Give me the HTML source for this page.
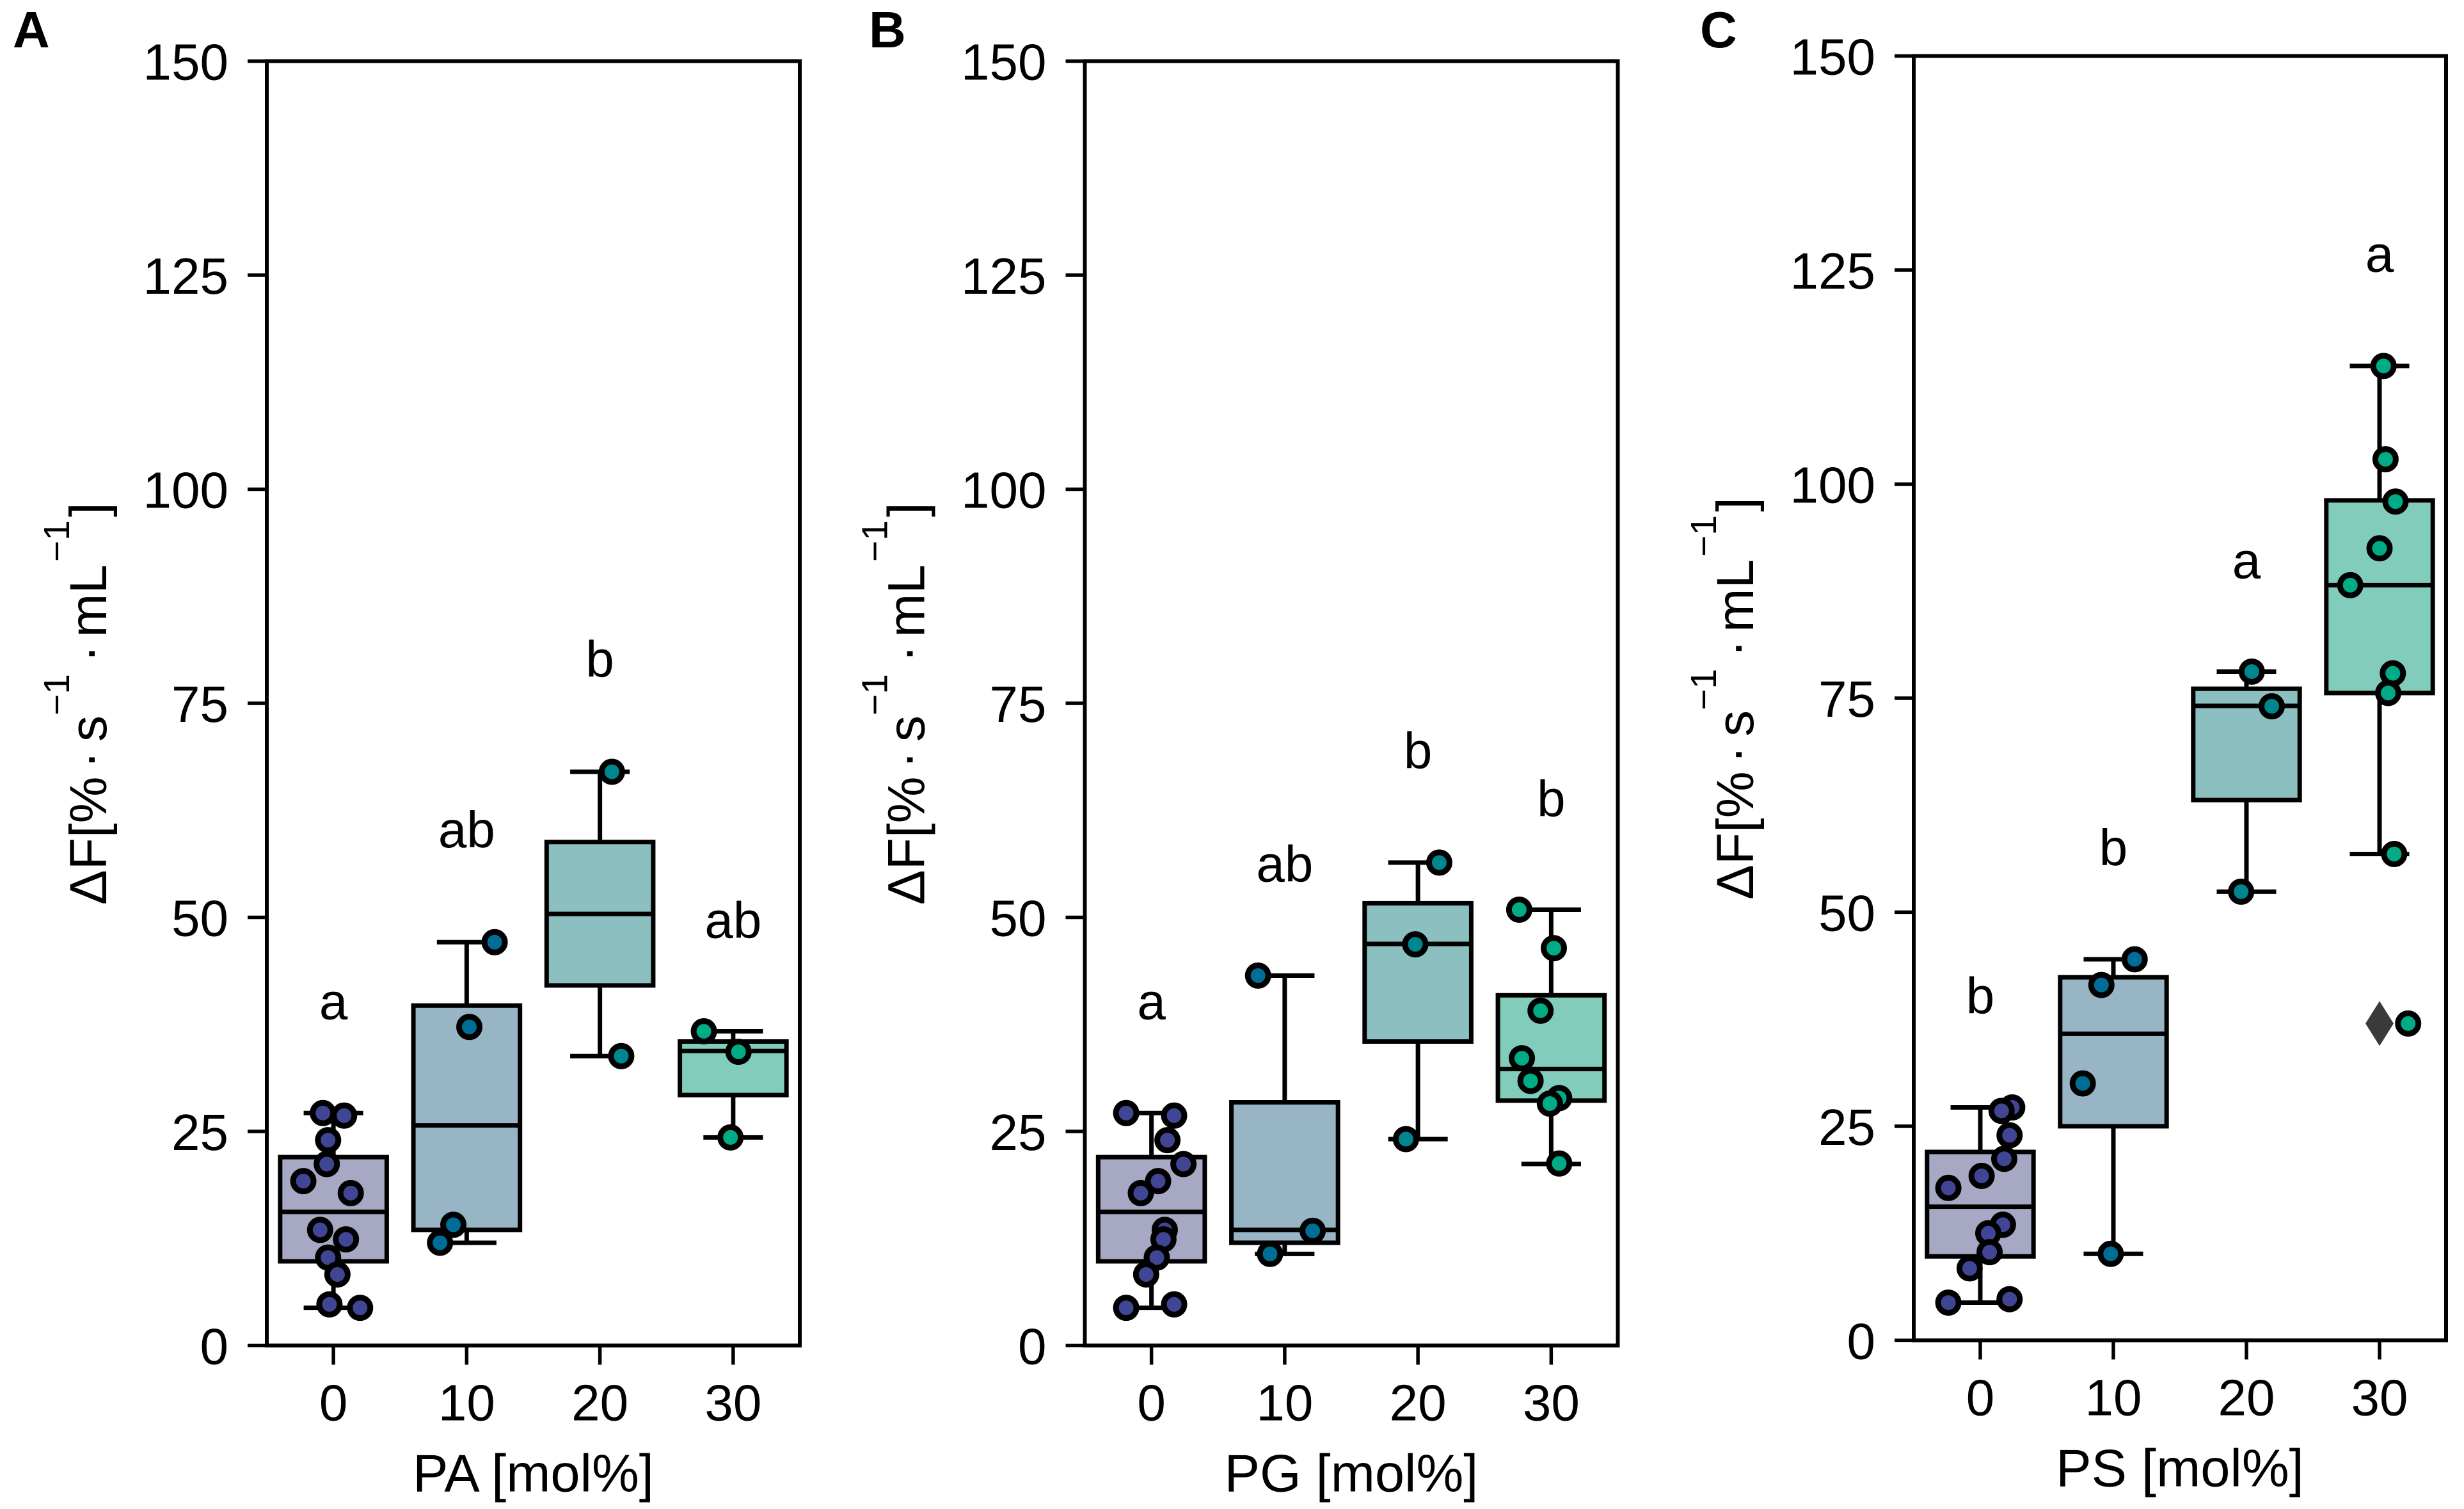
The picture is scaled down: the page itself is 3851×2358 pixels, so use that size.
<!DOCTYPE html>
<html lang="en">
<head>
<meta charset="utf-8">
<title>Box plots of fluorescence change versus PA, PG and PS content</title>
<style>
html,body{margin:0;padding:0;background:#fff;}
svg{display:block;}
text{font-family:"Liberation Sans",Arial,sans-serif;fill:#000;}
</style>
</head>
<body>
<svg id="figure" xmlns="http://www.w3.org/2000/svg" width="3851" height="2358" viewBox="0 0 3851 2358"></svg>
<script>
// ---- shared axis data ----
const categories = [0, 10, 20, 30];
const yTicks = [0, 25, 50, 75, 100, 125, 150];
const yMax = 150;

// ---- panel A: PA ----
const paQ1 = [9.83, 13.5, 42.05, 29.25];
const paMedian = [15.6, 25.7, 50.4, 34.4];
const paQ3 = [22.0, 39.7, 58.8, 35.5];
const paWhiskerLow = [4.4, 12.0, 33.8, 24.3];
const paWhiskerHigh = [27.15, 47.1, 67.0, 36.7];
const paPointValues = [
  [27.15, 26.85, 23.98, 21.19, 19.2, 17.8, 13.5, 12.4, 10.27, 8.3, 4.8, 4.4],
  [47.1, 37.2, 14.1, 12.0],
  [67.0, 33.8],
  [36.7, 34.3, 24.3]
];
const paPointJitter = [
  [-0.079, 0.08, -0.04, -0.05, -0.226, 0.13, -0.1, 0.094, -0.04, 0.03, -0.03, 0.2],
  [0.21, 0.02, -0.1, -0.2],
  [0.09, 0.16],
  [-0.22, 0.04, -0.02]
];
const paLetters = ['a', 'ab', 'b', 'ab'];
const paLetterHeights = [38.1, 58.2, 78.1, 47.6];
const paOutliers = [null, null, null, null];

// ---- panel B: PG ----
const pgQ1 = [9.83, 12.0, 35.5, 28.6];
const pgMedian = [15.6, 13.5, 46.9, 32.3];
const pgQ3 = [22.0, 28.4, 51.65, 40.9];
const pgWhiskerLow = [4.4, 10.7, 24.1, 21.2];
const pgWhiskerHigh = [27.15, 43.2, 56.4, 50.9];
const pgPointValues = [
  [27.15, 26.85, 23.98, 21.19, 19.2, 17.8, 13.5, 12.4, 10.27, 8.3, 4.8, 4.4],
  [43.2, 13.4, 10.7],
  [56.4, 46.85, 24.1],
  [50.9, 46.4, 39.1, 33.55, 30.9, 28.9, 28.25, 21.25]
];
const pgPointJitter = [
  [-0.19, 0.17, 0.12, 0.24, 0.05, -0.08, 0.1, 0.09, 0.04, -0.04, 0.17, -0.19],
  [-0.2, 0.21, -0.11],
  [0.16, -0.02, -0.09],
  [-0.24, 0.02, -0.08, -0.22, -0.155, 0.06, -0.01, 0.06]
];
const pgLetters = ['a', 'ab', 'b', 'b'];
const pgLetterHeights = [38.1, 54.2, 67.4, 61.8];
const pgOutliers = [null, null, null, null];

// ---- panel C: PS ----
const psQ1 = [9.8, 25.0, 63.1, 75.6];
const psMedian = [15.6, 35.8, 74.1, 88.2];
const psQ3 = [22.0, 42.4, 76.1, 98.1];
const psWhiskerLow = [4.4, 10.1, 52.4, 56.8];
const psWhiskerHigh = [27.2, 44.5, 78.1, 113.8];
const psPointValues = [
  [27.2, 26.8, 23.95, 21.2, 19.2, 17.8, 13.5, 12.5, 10.3, 8.4, 4.8, 4.4],
  [44.5, 41.5, 30.0, 10.1],
  [78.1, 74.05, 52.4],
  [113.8, 102.9, 97.96, 92.5, 88.2, 77.9, 75.6, 56.8, 37.0]
];
const psPointJitter = [
  [0.24, 0.16, 0.22, 0.18, 0.01, -0.24, 0.17, 0.06, 0.07, -0.08, 0.22, -0.24],
  [0.16, -0.09, -0.23, -0.02],
  [0.04, 0.19, -0.04],
  [0.03, 0.045, 0.12, 0, -0.22, 0.1, 0.065, 0.11, 0.215]
];
const psLetters = ['b', 'b', 'a', 'a'];
const psLetterHeights = [38.2, 55.5, 89.0, 124.8];
const psOutliers = [null, null, null, 37.0];

// ---- styling and layout ----
const boxFills = ['#a6a8c4', '#97b5c4', '#8bbfc0', '#82ccbb'];
const dotFills = ['#404694', '#006d97', '#00868f', '#00ab85'];

const panels = [
  {id: 'pa', letter: 'A', letterX: 20, label: 'PA [mol%]', left: 417, right: 1250, top: 95.5, bottom: 2102.5,
   q1: paQ1, med: paMedian, q3: paQ3, lo: paWhiskerLow, hi: paWhiskerHigh, vals: paPointValues, jit: paPointJitter, letters: paLetters, lh: paLetterHeights, out: paOutliers},
  {id: 'pg', letter: 'B', letterX: 1358, label: 'PG [mol%]', left: 1695.5, right: 2528.5, top: 95.5, bottom: 2102.5,
   q1: pgQ1, med: pgMedian, q3: pgQ3, lo: pgWhiskerLow, hi: pgWhiskerHigh, vals: pgPointValues, jit: pgPointJitter, letters: pgLetters, lh: pgLetterHeights, out: pgOutliers},
  {id: 'ps', letter: 'C', letterX: 2657, label: 'PS [mol%]', left: 2991, right: 3823, top: 87.5, bottom: 2094.4,
   q1: psQ1, med: psMedian, q3: psQ3, lo: psWhiskerLow, hi: psWhiskerHigh, vals: psPointValues, jit: psPointJitter, letters: psLetters, lh: psLetterHeights, out: psOutliers}
];

const NS = 'http://www.w3.org/2000/svg';
const svg = document.getElementById('figure');

function make(tag, parent, props) {
  const el = document.createElementNS(NS, tag);
  for (const k in props) el.setAttribute(k, props[k]);
  parent.appendChild(el);
  return el;
}
function line(parent, x1, y1, x2, y2, w, name) {
  const el = make('line', parent, {x1: x1, y1: y1, x2: x2, y2: y2, stroke: '#000', 'stroke-width': w});
  
  
  return el;
}
function label(parent, str, x, y, size, anchor, name, weight) {
  const el = make('text', parent, {x: x, y: y, 'font-size': size, 'text-anchor': anchor || 'start'});
  if (weight) el.setAttribute('font-weight', weight);
  el.textContent = str;
  
  
  return el;
}

panels.forEach(function (p) {
  const xAt = function (pos) { return p.left + (pos + 0.5) / categories.length * (p.right - p.left); };
  const yAt = function (v) { return p.bottom - v / yMax * (p.bottom - p.top); };
  const step = (p.right - p.left) / categories.length;
  const boxW = step * 0.8;
  const capW = step * 0.447;
  const lw = 7;

  const g = make('g', svg, {});
  
  

  label(g, p.letter, p.letterX, 74, 80, 'start', 'panel-letter-' + p.letter.toLowerCase(), 'bold');

  // boxes
  categories.forEach(function (c, i) {
    const cx = xAt(i);
    const bg = make('g', g, {});
    
    
    line(bg, cx, yAt(p.q3[i]), cx, yAt(p.hi[i]), lw, 'upper-whisker');
    line(bg, cx, yAt(p.q1[i]), cx, yAt(p.lo[i]), lw, 'lower-whisker');
    line(bg, cx - capW / 2, yAt(p.hi[i]), cx + capW / 2, yAt(p.hi[i]), lw, 'upper-cap');
    line(bg, cx - capW / 2, yAt(p.lo[i]), cx + capW / 2, yAt(p.lo[i]), lw, 'lower-cap');
    const r = make('rect', bg, {x: cx - boxW / 2, y: yAt(p.q3[i]), width: boxW, height: yAt(p.q1[i]) - yAt(p.q3[i]), fill: boxFills[i], stroke: '#000', 'stroke-width': lw});
    
    
    line(bg, cx - boxW / 2, yAt(p.med[i]), cx + boxW / 2, yAt(p.med[i]), lw, 'median-line');
    if (p.out[i] !== null) {
      const oy = yAt(p.out[i]);
      const d = make('polygon', bg, {points: (cx - 22) + ',' + oy + ' ' + cx + ',' + (oy - 35) + ' ' + (cx + 22) + ',' + oy + ' ' + cx + ',' + (oy + 35), fill: '#3a3a3a'});
      
      
    }
  });

  // points
  categories.forEach(function (c, i) {
    p.vals[i].forEach(function (v, j) {
      const dot = make('circle', g, {cx: xAt(i + p.jit[i][j]), cy: yAt(v), r: 16, fill: dotFills[i], stroke: '#000', 'stroke-width': 9});
      
      
    });
  });

  // significance letters
  categories.forEach(function (c, i) {
    label(g, p.letters[i], xAt(i), yAt(p.lh[i]), 80, 'middle', 'significance-letter-' + c);
  });

  // frame
  const frame = make('rect', g, {x: p.left, y: p.top, width: p.right - p.left, height: p.bottom - p.top, fill: 'none', stroke: '#000', 'stroke-width': 6});
  
  

  // y ticks
  yTicks.forEach(function (t) {
    line(g, p.left - 30, yAt(t), p.left, yAt(t), 5.5, 'y-tick-' + t);
    label(g, String(t), p.left - 60, yAt(t) + 29, 80, 'end', 'y-tick-label-' + t);
  });
  // x ticks
  categories.forEach(function (c, i) {
    line(g, xAt(i), p.bottom, xAt(i), p.bottom + 30, 5.5, 'x-tick-' + c);
    label(g, String(c), xAt(i), p.bottom + 117, 80, 'middle', 'x-tick-label-' + c);
  });
  // x title
  label(g, p.label, (p.left + p.right) / 2, p.bottom + 228, 83, 'middle', 'x-axis-title');

  // y title (pieces placed along the rotated baseline)
  const yt = make('g', g, {transform: 'translate(' + (p.left - 251) + ' ' + (p.bottom - 688.5) + ') rotate(-90)'});
  
  
  label(yt, '\u0394F[%', 0, 0, 82, 'start', 'y-title-delta-f');
  label(yt, '\u00b7', 213, 0, 82, 'start', 'y-title-dot');
  label(yt, 's', 255, 0, 82, 'start', 'y-title-seconds');
  label(yt, '\u22121', 296, -58, 57, 'start', 'y-title-exponent');
  label(yt, '\u00b7', 379, 0, 82, 'start', 'y-title-dot');
  label(yt, 'mL', 418, 0, 82, 'start', 'y-title-millilitre');
  label(yt, '\u22121', 536, -58, 57, 'start', 'y-title-exponent');
  label(yt, ']', 606, 0, 82, 'start', 'y-title-bracket');
});
</script>
</body>
</html>
